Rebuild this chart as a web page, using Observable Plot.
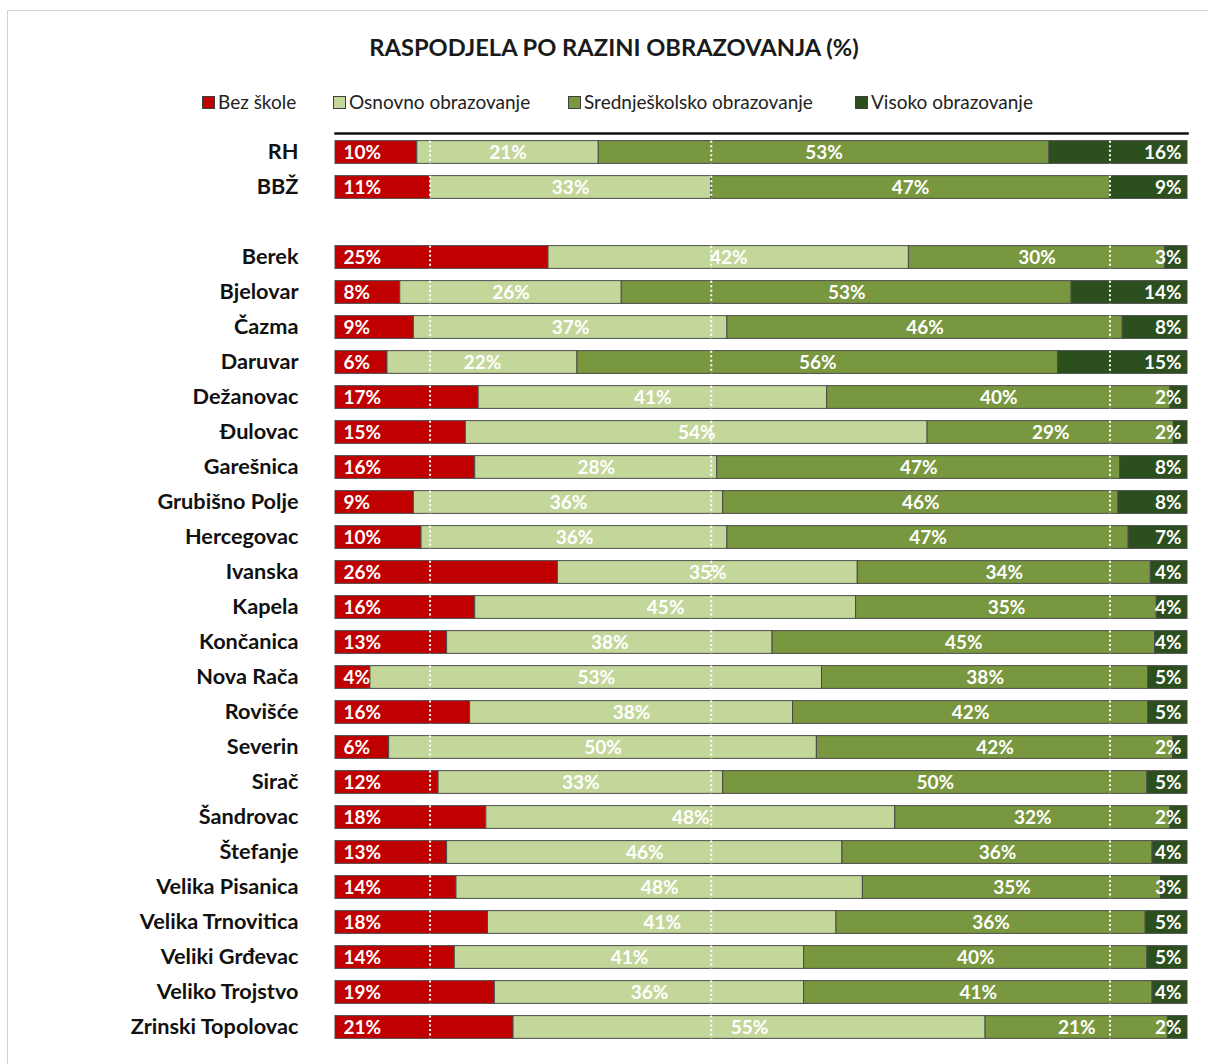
<!DOCTYPE html>
<html>
<head>
<meta charset="utf-8">
<script src="https://cdn.jsdelivr.net/npm/d3@7"></script>
<script src="https://cdn.jsdelivr.net/npm/@observablehq/plot@0.6"></script>
<style>
  body { margin: 0; background: #fff; font-family: Lato, "Open Sans", sans-serif; }
  #wrap { position: relative; width: 1208px; height: 1064px; overflow: hidden; }
  #frame { position: absolute; left: 7px; top: 10px; width: 1300px; height: 1200px; border-left: 1px solid #d0d0d0; border-top: 1px solid #d0d0d0; }
  #title { position: absolute; left: 0; width: 1228px; top: 32px; text-align: center; font-size: 23.7px; font-weight: bold; color: #1a1a1a; line-height: 30px; }
  .leg { position: absolute; top: 90px; font-size: 19px; color: #222; line-height: 24px; white-space: nowrap; }
  .sw { display: inline-block; width: 11px; height: 11px; border: 1px solid #404040; margin-right: 3px; vertical-align: 0px; }
  #chart { position: absolute; left: 0; top: 120px; }
</style>
</head>
<body>
<div id="wrap">
  <div id="frame"></div>
  <div id="title"></div>
  <div id="legend"></div>
  <div id="chart"></div>
</div>
<script>
const title = "RASPODJELA PO RAZINI OBRAZOVANJA (%)";
const levels = ["Bez škole", "Osnovno obrazovanje", "Srednješkolsko obrazovanje", "Visoko obrazovanje"];
const colors = ["#C00000", "#C4D79B", "#79973E", "#2C4F1E"];
const names = ["RH", "BBŽ", "Berek", "Bjelovar", "Čazma", "Daruvar", "Dežanovac", "Đulovac", "Garešnica", "Grubišno Polje", "Hercegovac", "Ivanska", "Kapela", "Končanica", "Nova Rača", "Rovišće", "Severin", "Sirač", "Šandrovac", "Štefanje", "Velika Pisanica", "Velika Trnovitica", "Veliki Grđevac", "Veliko Trojstvo", "Zrinski Topolovac"];
const bezSkole = [9.6, 11.1, 25.0, 7.6, 9.2, 6.1, 16.8, 15.3, 16.4, 9.2, 10.1, 26.1, 16.4, 13.1, 4.1, 15.8, 6.3, 12.1, 17.7, 13.1, 14.2, 17.9, 14.0, 18.7, 20.9];
const osnovno = [21.3, 33.0, 42.3, 26.0, 36.8, 22.3, 40.9, 54.2, 28.4, 36.3, 35.9, 35.2, 44.7, 38.2, 53.0, 37.9, 50.2, 33.4, 48.0, 46.4, 47.7, 40.9, 41.0, 36.3, 55.4];
const srednje = [52.9, 46.8, 30.1, 52.8, 46.4, 56.4, 40.3, 28.9, 47.3, 46.4, 47.1, 34.4, 35.3, 44.9, 38.3, 41.7, 41.8, 49.8, 32.3, 36.4, 35.0, 36.3, 40.3, 40.9, 21.4];
const visoko = [16.2, 9.1, 2.6, 13.6, 7.6, 15.2, 2.0, 1.6, 7.9, 8.1, 6.9, 4.3, 3.6, 3.8, 4.6, 4.6, 1.7, 4.7, 2.0, 4.1, 3.1, 4.9, 4.7, 4.1, 2.3];
const referenceRow = "BBŽ";
const gapRow = " ";

// y domain with an empty gap row after BBŽ
const yDomain = [names[0], names[1], gapRow, ...names.slice(2)];

const series = [bezSkole, osnovno, srednje, visoko];
const segs = [];
const rows = names.map((n, i) => {
  let acc = 0;
  series.forEach((s, k) => {
    const v = s[i];
    segs.push({name: n, level: levels[k], k, value: v, x1: acc, x2: acc + v, mid: acc + v / 2, label: Math.round(v) + "%"});
    acc += v;
  });
  return {name: n};
});
const refIdx = names.indexOf(referenceRow);
const refCum = [];
{ let acc = 0; for (let k = 0; k < 3; k++) { acc += series[k][refIdx]; refCum.push(acc); } }
const refTicks = [];
names.forEach(n => refCum.forEach(v => refTicks.push({name: n, x: v})));

document.getElementById("title").textContent = title;
const legX = [202, 333, 568, 855];
const legend = document.getElementById("legend");
levels.forEach((l, k) => {
  const d = document.createElement("div");
  d.className = "leg";
  d.style.left = legX[k] + "px";
  d.innerHTML = `<span class="sw" style="background:${colors[k]}"></span>${l}`;
  legend.appendChild(d);
});

const chart = Plot.plot({
  width: 1208,
  height: 944,
  marginLeft: 335,
  marginRight: 21,
  marginTop: 13,
  marginBottom: 18,
  style: {fontFamily: "Lato, 'Open Sans', sans-serif", background: "transparent"},
  x: {domain: [0, 100], axis: null},
  y: {domain: yDomain, axis: null, paddingInner: 0.35, paddingOuter: 0.218, round: false},
  color: {domain: levels, range: colors},
  marks: [
    Plot.ruleX([refCum[1]], {stroke: "#d8d8d8", strokeDasharray: "2,2", strokeWidth: 1.5, y1: 0, y2: 944}),
    Plot.barX(segs, {x1: "x1", x2: "x2", y: "name", fill: "level", stroke: "#4a4a4a", strokeWidth: 1}),
    Plot.tickX(refTicks, {x: "x", y: "name", stroke: "white", strokeWidth: 2, strokeDasharray: "2,2.5"}),
    Plot.frame({anchor: "top", stroke: "#111", strokeWidth: 2.5}),
    Plot.text(segs.filter(d => d.k === 0), {x: 0, y: "name", text: "label", textAnchor: "start", dx: 8, fill: "white", fontWeight: "bold", fontSize: 19}),
    Plot.text(segs.filter(d => d.k === 1 || d.k === 2), {x: "mid", y: "name", text: "label", fill: "white", fontWeight: "bold", fontSize: 19}),
    Plot.text(segs.filter(d => d.k === 3), {x: 100, y: "name", text: "label", textAnchor: "end", dx: -6, fill: "white", fontWeight: "bold", fontSize: 19}),
    Plot.text(rows, {x: 0, y: "name", text: "name", textAnchor: "end", dx: -37, fill: "#111", fontWeight: "bold", fontSize: 21.7})
  ]
});
document.getElementById("chart").appendChild(chart);
</script>
</body>
</html>
